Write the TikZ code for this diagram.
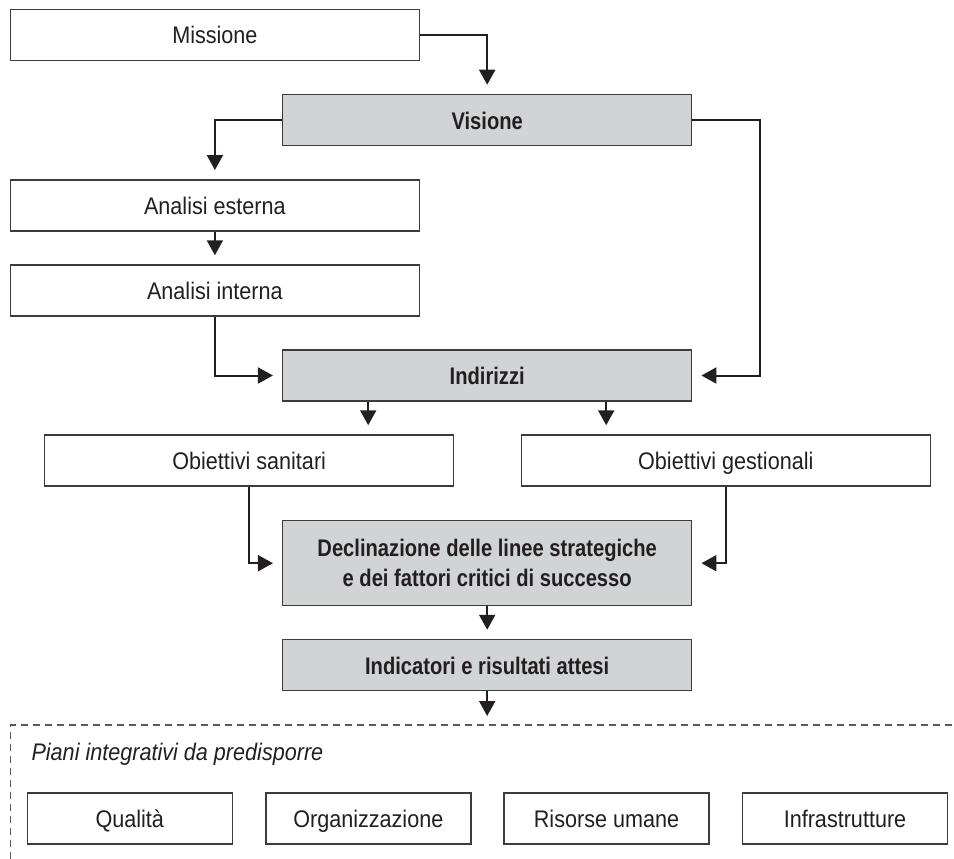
\documentclass[tikz,border=0pt]{standalone}
\usepackage{fontspec}
\setmainfont{Liberation Sans}[FakeStretch=0.9, BoldFeatures={FakeStretch=0.84}]
\usetikzlibrary{arrows.meta}
\definecolor{boxgray}{HTML}{D1D3D4}
\definecolor{linegray}{HTML}{3C3C3C}
\definecolor{inkblack}{HTML}{231F20}

\begin{document}
\begin{tikzpicture}[x=1pt, y=-1pt, >={Triangle[length=15pt, width=16pt]},
    box/.style={draw=linegray, line width=1.5pt, fill=white, minimum width=409pt,
        minimum height=51pt, inner sep=0pt, text=inkblack,
        text height=22pt, text depth=4pt, font=\fontsize{24}{30}\selectfont},
    keybox/.style={box, fill=boxgray, font=\fontsize{24}{30}\selectfont\bfseries},
    planbox/.style={box, minimum width=205pt},
    flow/.style={->, line width=2pt, draw=inkblack, shorten >=9pt}]
    \useasboundingbox (0,0) rectangle (954,859);

    % blocchi principali
    \node[box]    (mis) at (214.9, 35.0) {Missione};
    \node[keybox] (vis) at (487.2,120.0) {Visione};
    \node[box]    (ext) at (214.9,205.3) {Analisi esterna};
    \node[box]    (int) at (214.9,290.5) {Analisi interna};
    \node[keybox] (ind) at (487.2,375.5) {Indirizzi};

    % obiettivi
    \node[box] (san) at (249.2,460.5) {Obiettivi sanitari};
    \node[box] (ges) at (725.8,460.5) {Obiettivi gestionali};

    % linee strategiche e indicatori
    \node[keybox, minimum height=85pt, align=center, text height=, text depth=] (dec) at (487.2,563.2)
        {Declinazione delle linee strategiche\\e dei fattori critici di successo};
    \node[keybox] (indic) at (487.2,665.0) {Indicatori e risultati attesi};

    % -------------------------------------------------------------
    % piani integrativi (cornice tratteggiata)
    % -------------------------------------------------------------
    \draw[dashed, dash pattern=on 7pt off 5pt, line width=1.3pt, gray!70!black]
        (10.7,859) -- (10.7,725) -- (954,725);
    \coordinate (frametop) at (487.2,725);
    \node[anchor=base west, text=inkblack, font=\fontsize{24}{30}\selectfont\itshape]
        (piani) at (28,760) {Piani integrativi da predisporre};

    \node[planbox] (qual) at (129.8,818.5) {Qualità};
    \node[planbox] (org)  at (368.3,818.5) {Organizzazione};
    \node[planbox] (ris)  at (606.5,818.5) {Risorse umane};
    \node[planbox] (inf)  at (845.0,818.5) {Infrastrutture};

    % -------------------------------------------------------------
    % frecce
    % -------------------------------------------------------------
    \draw[flow] (mis.east) -| (vis.north);
    \draw[flow] (vis.west) -| (ext.north);
    \draw[flow] (ext.south) -- (int.north);
    \draw[flow] (vis.east) -- ++(67.6,0) |- (ind.east);
    \draw[flow] (int.south) |- (ind.west);

    \draw[flow] ([xshift=-119pt]ind.south) -- ([xshift=-119pt]ind.south |- san.north);
    \draw[flow] ([xshift=119pt]ind.south) -- ([xshift=119pt]ind.south |- ges.north);

    \draw[flow] (san.south) |- (dec.west);
    \draw[flow] (ges.south) |- (dec.east);

    \draw[flow] (dec.south) -- (indic.north);
    \draw[flow] (indic.south) -- (frametop);

\end{tikzpicture}
\end{document}
